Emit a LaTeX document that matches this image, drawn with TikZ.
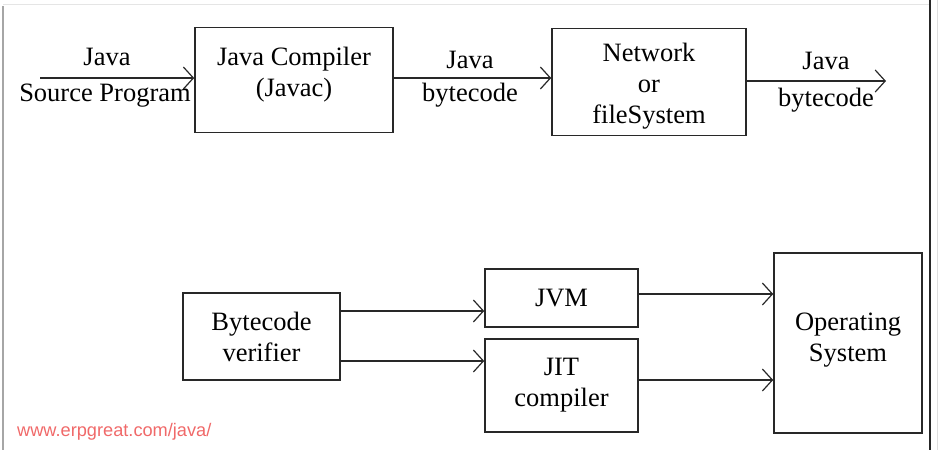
\documentclass[tikz,border=0pt]{standalone}
\usepackage{fontspec}
\setmainfont{Liberation Serif}
\newfontfamily\wmfont{Liberation Sans}
\usetikzlibrary{arrows.meta}
\definecolor{wmred}{RGB}{240,105,105}
\definecolor{boxline}{RGB}{40,40,40}
\tikzset{
  box/.style={draw=boxline, line width=1.6pt, inner sep=0pt, align=center,
    font=\fontsize{26.5}{31}\selectfont},
  lbl/.style={inner sep=0pt, align=center, font=\fontsize{26.5}{31}\selectfont},
  conn/.style={draw=boxline, line width=1.3pt, -{Straight Barb[length=10pt,width=22pt,line width=1.2pt]}}
}
\begin{document}
\begin{tikzpicture}[x=1pt,y=-1pt]
\useasboundingbox (0,0) rectangle (939,450);
% frame lines
\draw[draw=gray!70, line width=2pt] (3,6) -- (3,450);
\draw[draw=gray!20, line width=1pt] (3,4) -- (930,4);
\draw[draw=black!85, line width=1.2pt] (930,0) -- (930,450);
\draw[draw=gray!25, line width=1pt] (937,0) -- (937,450);
% boxes
\node[box, minimum width=198pt, minimum height=105pt] (javac) at (294,80) {\raisebox{5pt}[\height][\depth]{\begin{tabular}{@{}c@{}}Java Compiler\\(Javac)\end{tabular}}};
\node[box, minimum width=194pt, minimum height=107pt] (net) at (649,82) {\raisebox{-4pt}[\height][\depth]{\begin{tabular}{@{}c@{}}Network\\or\\fileSystem\end{tabular}}};
\node[box, minimum width=157pt, minimum height=87pt] (verif) at (261.5,336.5) {Bytecode\\verifier};
\node[box, minimum width=153pt, minimum height=58pt] (jvm) at (561.5,298) {JVM};
\node[box, minimum width=153pt, minimum height=93pt] (jit) at (561.5,385.5) {JIT\\compiler};
\node[box, minimum width=148pt, minimum height=180pt] (os) at (848,343) {\raisebox{3pt}[\height][\depth]{\begin{tabular}{@{}c@{}}Operating\\System\end{tabular}}};
% free ends
\coordinate (srcstart) at (40,78);
\coordinate (outend) at (886,81);
% connectors
\draw[conn] (srcstart) -- (javac.west |- srcstart);
\draw[conn] (javac.east |- 0,78) -- (net.west |- 0,78);
\draw[conn] (net.east |- outend) -- (outend);
\draw[conn] (verif.east |- 0,311) -- (jvm.west |- 0,311);
\draw[conn] (verif.east |- 0,361) -- (jit.west |- 0,361);
\draw[conn] (jvm.east |- 0,294) -- (os.west |- 0,294);
\draw[conn] (jit.east |- 0,380) -- (os.west |- 0,380);
% labels
\node[lbl] (l1) at (107,57) {Java};
\node[lbl] (l2) at (105,96) {Source Program};
\node[lbl] (l3) at (470,60) {Java};
\node[lbl] (l4) at (470,95) {bytecode};
\node[lbl] (l5) at (826,61) {Java};
\node[lbl] (l6) at (826,100) {bytecode};
% watermark
\node[inner sep=0pt, text=wmred, font=\wmfont\fontsize{18.2}{20}\selectfont, anchor=west] (wm) at (17,432) {www.erpgreat.com/java/};
\end{tikzpicture}
\end{document}
